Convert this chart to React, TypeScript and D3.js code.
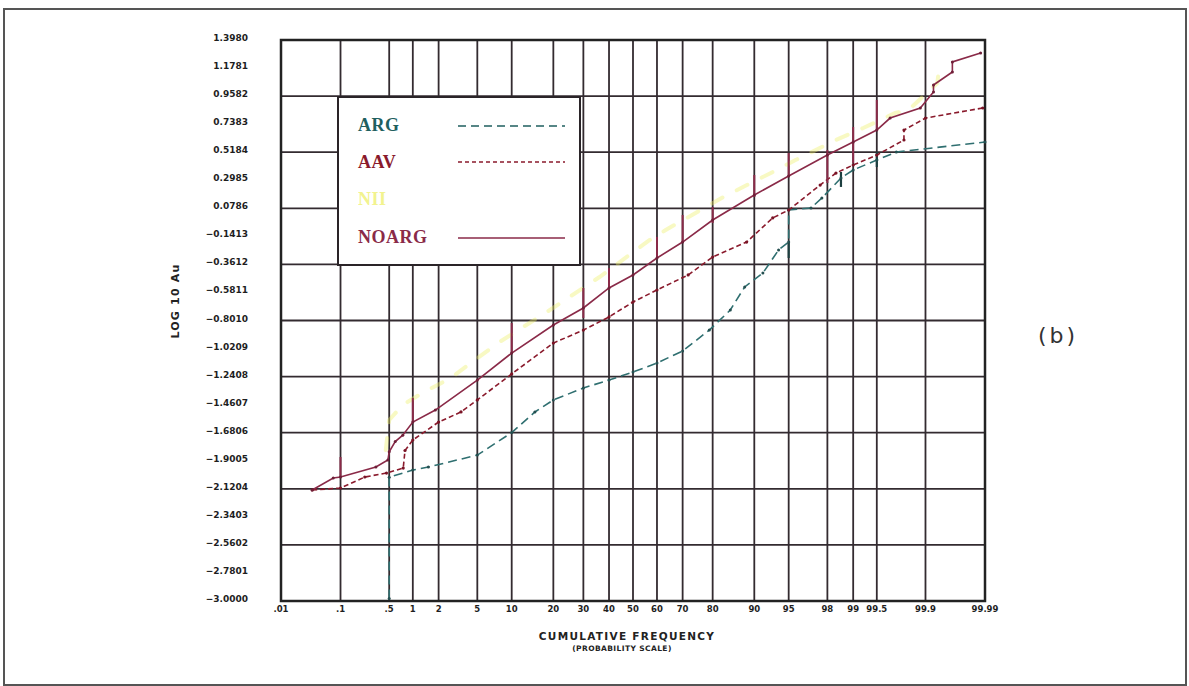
import React from "react";
import * as d3 from "d3";

// ---------- data ----------
const xTickValues = [0.01, 0.1, 0.5, 1, 2, 5, 10, 20, 30, 40, 50, 60, 70, 80, 90, 95, 98, 99, 99.5, 99.9, 99.99];
const xTickLabels = [".01", ".1", ".5", "1", "2", "5", "10", "20", "30", "40", "50", "60", "70", "80", "90", "95", "98", "99", "99.5", "99.9", "99.99"];
const yTickValues = [1.398, 1.1781, 0.9582, 0.7383, 0.5184, 0.2985, 0.0786, -0.1413, -0.3612, -0.5811, -0.801, -1.0209, -1.2408, -1.4607, -1.6806, -1.9005, -2.1204, -2.3403, -2.5602, -2.7801, -3.0];

const argData: [number, number][] = [
  [0.5, -2.98], [0.5, -2.03], [1, -1.973], [1.53, -1.95], [5, -1.856], [10, -1.68], [15, -1.518],
  [20, -1.424], [30, -1.33], [40, -1.268], [50, -1.205], [60, -1.134], [70, -1.04], [79, -0.876],
  [84.8, -0.719], [88.1, -0.538], [91.5, -0.429], [93.8, -0.248], [95, -0.186], [95, 0.065],
  [97, 0.081], [97.7, 0.159], [98.6, 0.316], [99, 0.379], [99.5, 0.457], [99.73, 0.52], [99.99, 0.598],
];
const aavData: [number, number][] = [
  [0.035, -2.13], [0.1, -2.114], [0.23, -2.028], [0.46, -1.997], [0.76, -1.958], [0.8, -1.82],
  [1, -1.738], [2, -1.597], [3.46, -1.518], [5, -1.424], [10, -1.22], [20, -0.978], [30, -0.876],
  [40, -0.773], [50, -0.656], [60, -0.562], [72, -0.444], [80, -0.303], [88.5, -0.186], [93, 0.003],
  [95, 0.065], [97.6, 0.261], [98.4, 0.355], [99, 0.418], [99.5, 0.496], [99.79, 0.614], [99.79, 0.692],
  [99.9, 0.786], [99.989, 0.865],
];
const niiData: [number, number][] = [
  [0.45, -1.816], [0.5, -1.581], [0.75, -1.463], [1.3, -1.369], [2.7, -1.252], [7.7, -0.977],
  [19, -0.719], [36.2, -0.46], [57, -0.17], [63.5, -0.092], [83, 0.167], [93, 0.363], [95.7, 0.457],
  [98.4, 0.614], [99.25, 0.708], [99.72, 0.826], [99.82, 0.849], [99.935, 1.061], [99.94, 1.226],
];
const noargData: [number, number][] = [
  [0.035, -2.13], [0.077, -2.036], [0.1, -2.028], [0.33, -1.95], [0.48, -1.895], [0.5, -1.83],
  [0.6, -1.75], [0.75, -1.7], [1, -1.597], [1.84, -1.503], [5, -1.268], [10, -1.056], [20, -0.836],
  [30, -0.703], [40, -0.546], [50, -0.444], [60, -0.311], [70, -0.186], [80, -0.013], [90, 0.183],
  [95, 0.332], [98, 0.496], [99, 0.598], [99.5, 0.692], [99.67, 0.786], [99.88, 0.865],
  [99.925, 0.99], [99.925, 1.045], [99.963, 1.147], [99.963, 1.226], [99.988, 1.296],
];
// vertical bars [p, low, high]
const noargBars: [number, number, number][] = [
  [0.1, -2.028, -1.871], [1, -1.597, -1.409], [10, -1.056, -0.821], [30, -0.781, -0.546],
  [40, -0.562, -0.39], [60, -0.311, -0.146], [70, -0.193, 0.026], [80, -0.037, 0.089],
  [90, 0.167, 0.34], [95, 0.324, 0.512], [98, 0.277, 0.536], [99, 0.434, 0.716], [99.5, 0.692, 0.928],
];
const argBars: [number, number, number][] = [
  [95, -0.311, -0.186], [98.6, 0.246, 0.363], [99.5, 0.402, 0.52],
];

const legendNames = ["ARG", "AAV", "NII", "NOARG"];
const legendColors = ["#1f5f5f", "#8a1a2c", "#eef06a", "#8a2a48"];

// ---------- helpers ----------
function normInv(p: number): number {
  const a = [-3.969683028665376e1, 2.209460984245205e2, -2.759285104469687e2, 1.38357751867269e2, -3.066479806614716e1, 2.506628277459239];
  const b = [-5.447609879822406e1, 1.615858368580409e2, -1.556989798598866e2, 6.680131188771972e1, -1.328068155288572e1];
  const c = [-7.784894002430293e-3, -3.223964580411365e-1, -2.400758277161838, -2.549732539343734, 4.374664141464968, 2.938163982698783];
  const d = [7.784695709041462e-3, 3.224671290700398e-1, 2.445134137142996, 3.754408661907416];
  const pl = 0.02425;
  if (p < pl) {
    const q = Math.sqrt(-2 * Math.log(p));
    return (((((c[0] * q + c[1]) * q + c[2]) * q + c[3]) * q + c[4]) * q + c[5]) / ((((d[0] * q + d[1]) * q + d[2]) * q + d[3]) * q + 1);
  }
  if (p <= 1 - pl) {
    const q = p - 0.5, r = q * q;
    return ((((((a[0] * r + a[1]) * r + a[2]) * r + a[3]) * r + a[4]) * r + a[5]) * q) / (((((b[0] * r + b[1]) * r + b[2]) * r + b[3]) * r + b[4]) * r + 1);
  }
  const q = Math.sqrt(-2 * Math.log(1 - p));
  return -(((((c[0] * q + c[1]) * q + c[2]) * q + c[3]) * q + c[4]) * q + c[5]) / ((((d[0] * q + d[1]) * q + d[2]) * q + d[3]) * q + 1);
}
const probit = (pct: number) => normInv(pct / 100);

const W = 1189, H = 686;
const L = 281, R = 985, T = 40, B = 601;

export default function App() {
  const zx = d3.scaleLinear().domain([probit(0.01), probit(99.99)]).range([L, R]);
  const x = (p: number) => zx(probit(p));
  const y = d3.scaleLinear().domain([-3, 1.398]).range([B, T]);
  const line = d3.line<[number, number]>().x((d) => x(d[0])).y((d) => y(d[1]));

  const gridColor = "#332b30";
  const tickFont = "'DejaVu Sans', Verdana, sans-serif";

  const lg = { x0: 338, y0: 97, x1: 580, y1: 265 };
  const legendRows = [131, 168, 205, 243];

  return (
    <svg width={W} height={H} style={{ position: "absolute", left: 0, top: 0, display: "block", background: "#fff" }}>
      <rect x={4} y={9} width={1182} height={676} fill="#fff" stroke="#555" strokeWidth={2} />

      {/* vertical grid */}
      {xTickValues.slice(1, -1).map((p) => (
        <line key={"vx" + p} x1={x(p)} x2={x(p)} y1={T} y2={B} stroke={gridColor} strokeWidth={1.8} />
      ))}
      {/* horizontal grid */}
      {yTickValues.filter((_, i) => i % 2 === 0 && i > 0 && i < 20).map((v) => (
        <line key={"hy" + v} x1={L} x2={R} y1={y(v)} y2={y(v)} stroke={gridColor} strokeWidth={1.8} />
      ))}
      <rect x={L} y={T} width={R - L} height={B - T} fill="none" stroke="#222" strokeWidth={2.5} />

      {/* y tick labels */}
      {yTickValues.map((v, i) => (
        <text key={"yt" + i} x={248} y={y(v) + 1} textAnchor="end" fontFamily={tickFont} fontWeight="bold" fontSize={9} fill="#1e1e1e">
          {v < 0 ? "\u2212" + Math.abs(v).toFixed(4) : v.toFixed(4)}
        </text>
      ))}
      {/* x tick labels */}
      {xTickValues.map((p, i) => (
        <text key={"xt" + i} x={x(p)} y={612} textAnchor="middle" fontFamily={tickFont} fontWeight="bold" fontSize={8.5} fill="#1e1e1e">
          {xTickLabels[i]}
        </text>
      ))}

      {/* axis titles */}
      <text transform="translate(179,301) rotate(-90)" textAnchor="middle" fontFamily={tickFont} fontWeight="bold" fontSize={11} letterSpacing={1.2} fill="#222">
        LOG 10  Au
      </text>
      <text x={627} y={640} textAnchor="middle" fontFamily={tickFont} fontWeight="600" fontSize={10.5} letterSpacing={1.3} fill="#222">
        CUMULATIVE FREQUENCY
      </text>
      <text x={622} y={651} textAnchor="middle" fontFamily={tickFont} fontWeight="bold" fontSize={7.5} letterSpacing={0.4} fill="#222">
        (PROBABILITY SCALE)
      </text>
      <text x={1058} y={343} textAnchor="middle" fontFamily="'DejaVu Sans', sans-serif" fontSize={22} letterSpacing={3} fill="#333">
        (b)
      </text>

      {/* legend */}
      <rect x={lg.x0} y={lg.y0} width={lg.x1 - lg.x0} height={lg.y1 - lg.y0} fill="#fff" stroke="#2a2428" strokeWidth={2} />
      {legendNames.map((n, i) => (
        <text key={n} x={358} y={legendRows[i]} fontFamily="'Liberation Serif', 'DejaVu Serif', serif" fontWeight="bold" fontSize={18} letterSpacing={0.5} fill={legendColors[i]} opacity={i === 2 ? 0.75 : 1}>
          {n}
        </text>
      ))}
      <line x1={458} x2={565} y1={126} y2={126} stroke={legendColors[0]} strokeWidth={1.6} strokeDasharray="8 5" />
      <line x1={458} x2={565} y1={162} y2={162} stroke={legendColors[1]} strokeWidth={1.4} strokeDasharray="4 3" />
      <line x1={458} x2={565} y1={238} y2={238} stroke={legendColors[3]} strokeWidth={1.6} />

      {/* series */}
      <path d={line(niiData) || ""} fill="none" stroke={legendColors[2]} strokeWidth={4} strokeOpacity={0.4} strokeDasharray="12 16" strokeLinecap="round" />
      <path d={line(argData) || ""} fill="none" stroke="#2f6f70" strokeWidth={1.6} strokeDasharray="9 5" />
      <path d={line(aavData) || ""} fill="none" stroke={legendColors[1]} strokeWidth={1.6} strokeDasharray="5 3" />
      <path d={line(noargData) || ""} fill="none" stroke={legendColors[3]} strokeWidth={1.6} />

      {noargBars.map(([p, lo, hi], i) => (
        <line key={"nb" + i} x1={x(p)} x2={x(p)} y1={y(lo)} y2={y(hi)} stroke={legendColors[3]} strokeWidth={2} />
      ))}
      {argBars.map(([p, lo, hi], i) => (
        <line key={"ab" + i} x1={x(p)} x2={x(p)} y1={y(lo)} y2={y(hi)} stroke="#1d3f40" strokeWidth={2.2} />
      ))}

      {argData.map((d, i) => (
        <circle key={"ad" + i} cx={x(d[0])} cy={y(d[1])} r={1.5} fill="#244f50" />
      ))}
      {aavData.map((d, i) => (
        <circle key={"vd" + i} cx={x(d[0])} cy={y(d[1])} r={1.6} fill="#7a1426" />
      ))}
      {noargData.map((d, i) => (
        <circle key={"nd" + i} cx={x(d[0])} cy={y(d[1])} r={1.5} fill="#6e1f38" />
      ))}
    </svg>
  );
}
